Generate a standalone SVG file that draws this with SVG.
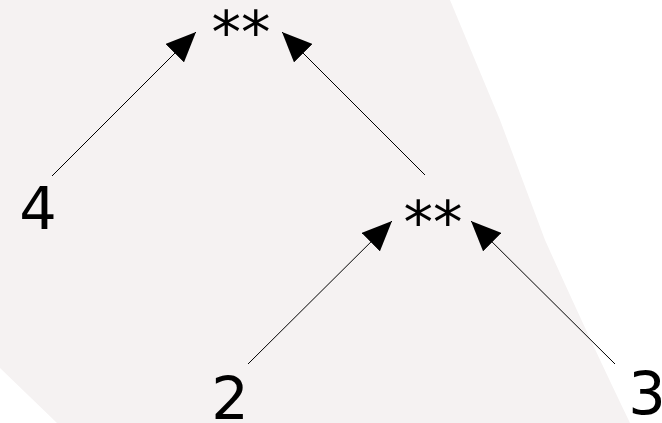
<svg xmlns="http://www.w3.org/2000/svg" width="662" height="423" viewBox="0 0 662 423">
  <style>
    .lbl { font-family: "DejaVu Sans", sans-serif; font-size: 59px; fill: #000; text-anchor: middle; }
    .edge { stroke: #000; stroke-width: 1; fill: none; marker-end: url(#arr); }
  </style>
  <defs>
    <marker id="arr" viewBox="0 0 30 26" refX="30" refY="13" markerWidth="30" markerHeight="26" orient="auto" markerUnits="userSpaceOnUse">
      <path d="M0,0 L30,13 L0,26 z" fill="#000"/>
    </marker>
  </defs>
  <rect width="662" height="423" fill="#ffffff"/>
  <path d="M0,0 L450,0 L500,120 L545,240 Q590,340 630,423 L57,423 L0,368 Z" fill="#f5f2f2"/>
  <g id="connectors">
    <line class="edge" x1="52" y1="176" x2="196" y2="32"/>
    <line class="edge" x1="425" y1="175" x2="282" y2="32"/>
    <line class="edge" x1="248" y1="364" x2="392" y2="221"/>
    <line class="edge" x1="615" y1="364" x2="471" y2="221"/>
  </g>
  <g id="root"><text class="lbl" x="241" y="53">**</text></g>
  <g id="n4"><text class="lbl" x="38" y="229">4</text></g>
  <g id="inner"><text class="lbl" x="433" y="243">**</text></g>
  <g id="n2"><text class="lbl" x="230" y="419">2</text></g>
  <g id="n3"><text class="lbl" x="647" y="414">3</text></g>
</svg>
